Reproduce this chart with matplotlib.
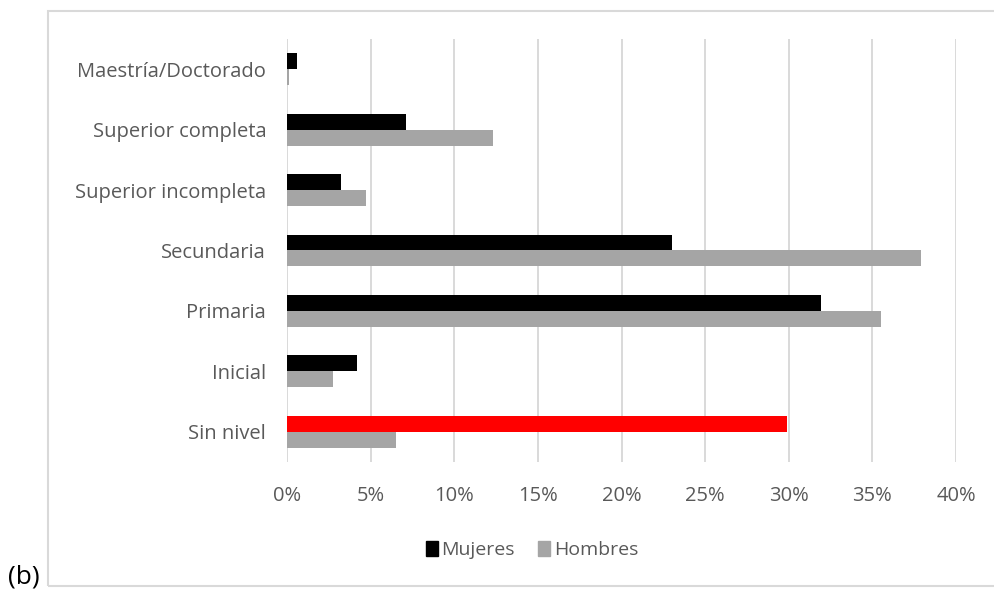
import matplotlib.pyplot as plt
import numpy as np
from matplotlib.patches import Rectangle, Patch

# categories bottom to top
niveles = ['Sin nivel', 'Inicial', 'Primaria', 'Secundaria',
           'Superior incompleta', 'Superior completa', 'Maestría/Doctorado']
mujeres = [29.9, 4.2, 31.9, 23.0, 3.2, 7.1, 0.6]
hombres = [6.5, 2.75, 35.5, 37.9, 4.7, 12.3, 0.12]
ticks = [0, 5, 10, 15, 20, 25, 30, 35, 40]

txt = '#595959'
plt.rcParams['font.family'] = ['Open Sans', 'DejaVu Sans']

fig = plt.figure(figsize=(9.94, 5.89), dpi=100)
ax = fig.add_axes([287/994, 1-462/589, (956-287)/994, (462-39)/589])

y = np.arange(len(niveles))
h = 0.264
col_m = ['#FF0000' if n == 'Sin nivel' else '#000000' for n in niveles]
ax.barh(y + h/2, mujeres, height=h, color=col_m, zorder=3)
ax.barh(y - h/2, hombres, height=h, color='#A5A5A5', zorder=3)

ax.set_xlim(0, 40)
ax.set_ylim(-0.5, len(niveles) - 0.5)
ax.set_xticks(ticks)
ax.set_xticklabels([f'{t}%' for t in ticks])
ax.set_yticks(y)
ax.set_yticklabels(niveles)
ax.tick_params(axis='both', length=0, labelsize=14.5, labelcolor=txt)
ax.tick_params(axis='x', pad=17)
ax.tick_params(axis='y', pad=15)
ax.grid(axis='x', color='#D9D9D9', lw=1.4, zorder=0)
for s in ax.spines.values():
    s.set_visible(False)

handles = [Patch(color='#000000'), Patch(color='#A5A5A5')]
fig.legend(handles, ['Mujeres', 'Hombres'], loc='center', bbox_to_anchor=(532/994, 1-550/589),
           ncol=2, frameon=False, handlelength=0.6, handleheight=0.8, handletextpad=0.2,
           columnspacing=1.2, prop={'size': 14}, labelcolor=txt)

fig.patches.append(Rectangle((48/994, 1-586/589), 1.0, (586-11)/589, transform=fig.transFigure,
                             fill=False, edgecolor='#D9D9D9', lw=1.5))
fig.text(8/994, 1-583/589, '(b)', fontsize=19, color='#000000', va='baseline', ha='left')

fig.savefig('out.png', dpi=100)
